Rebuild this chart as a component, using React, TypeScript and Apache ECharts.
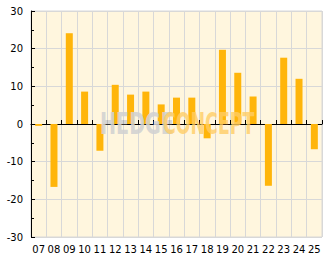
import React, { useEffect, useRef } from "react";
import * as echarts from "echarts";

const categories = ["07","08","09","10","11","12","13","14","15","16","17","18","19","20","21","22","23","24","25"];
const values = [-0.5,-16.7,24.1,8.6,-7.1,10.4,7.8,8.6,5.2,7.0,7.0,-3.8,19.7,13.6,7.3,-16.4,17.6,12.0,-6.7];
const yMin = -30;
const yMax = 30;
const yInterval = 10;

export default function App() {
  const ref = useRef<HTMLDivElement>(null);
  useEffect(() => {
    if (!ref.current) return;
    const chart = echarts.init(ref.current, null, { renderer: "svg" });
    const font = "DejaVu Sans";
    chart.setOption({
      animation: false,
      backgroundColor: "#ffffff",
      grid: {
        left: 31, right: 10, top: 11, bottom: 32,
        show: true, backgroundColor: "#FFF6DE", borderColor: "#D8D8D8", borderWidth: 1,
        containLabel: false,
      },
      xAxis: {
        type: "category",
        data: categories,
        axisLine: { show: true, lineStyle: { color: "#000", width: 1 } },
        axisTick: { show: true, inside: true, length: 4, interval: 0, lineStyle: { color: "#000" } },
        axisLabel: { interval: 0, color: "#000", fontFamily: font, fontSize: 10, margin: 7 },
        splitLine: { show: true, interval: 0, lineStyle: { color: "#D8D8D8", width: 1 } },
      },
      yAxis: {
        type: "value",
        min: yMin, max: yMax, interval: yInterval,
        axisLine: { show: true, lineStyle: { color: "#000", width: 1 } },
        axisTick: { show: true, inside: true, length: 4, lineStyle: { color: "#000" } },
        minorTick: { show: true, splitNumber: 2, length: 3, lineStyle: { color: "#000" } },
        axisLabel: { color: "#000", fontFamily: font, fontSize: 10, margin: 8 },
        splitLine: { show: true, lineStyle: { color: "#D8D8D8", width: 1 } },
      },
      series: [{
        type: "bar",
        data: values,
        barWidth: 7,
        itemStyle: { color: "#FFB50A" },
      }],
      graphic: [
        {
          type: "text", x: 100, y: 109, z: 100, scaleX: 0.64,
          style: { text: "HEDGE", font: "bold 30px 'DejaVu Sans'", fill: "rgba(210,210,210,0.9)", verticalAlign: "top", align: "left" },
        },
        {
          type: "text", x: 163, y: 109, z: 100, scaleX: 0.58,
          style: { text: "CONCEPT", font: "bold 30px 'DejaVu Sans'", fill: "rgba(255,205,100,0.8)", verticalAlign: "top", align: "left" },
        },
      ],
    });
    return () => chart.dispose();
  }, []);
  return <div ref={ref} style={{ position: "fixed", left: 0, top: 0, width: 332, height: 269 }} />;
}
